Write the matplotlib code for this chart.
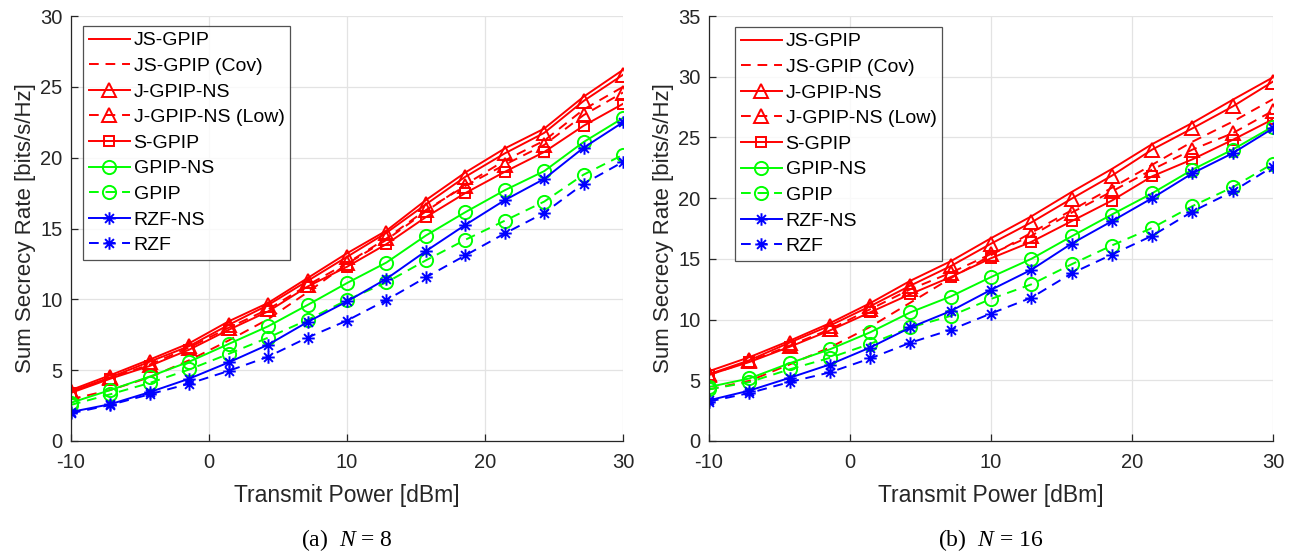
import matplotlib
matplotlib.use("Agg")
import matplotlib.pyplot as plt
from matplotlib.path import Path
import numpy as np

# ---------------- data ----------------
power_dbm = [-10, -7.14, -4.29, -1.43, 1.43, 4.29, 7.14, 10, 12.86, 15.71, 18.57, 21.43, 24.29, 27.14, 30]

labels = ["JS-GPIP", "JS-GPIP (Cov)", "J-GPIP-NS", "J-GPIP-NS (Low)", "S-GPIP",
          "GPIP-NS", "GPIP", "RZF-NS", "RZF"]

# N = 8
n8_js_gpip = [3.6, 4.65, 5.75, 6.9, 8.45, 9.75, 11.5, 13.25, 14.85, 17.0, 18.95, 20.65, 22.05, 24.3, 26.2]
n8_js_gpip_cov = [2.95, 3.6, 4.5, 5.7, 7.1, 8.6, 10.5, 12.5, 14.2, 16.2, 18.1, 19.8, 21.2, 23.4, 25.0]
n8_j_gpip_ns = [3.5, 4.5, 5.6, 6.7, 8.2, 9.6, 11.3, 13.0, 14.7, 16.7, 18.65, 20.3, 21.75, 24.0, 25.85]
n8_j_gpip_ns_low = [3.45, 4.45, 5.4, 6.6, 8.0, 9.3, 11.0, 12.55, 14.3, 16.3, 18.0, 19.5, 20.9, 23.0, 24.6]
n8_s_gpip = [3.4, 4.4, 5.3, 6.45, 7.85, 9.15, 10.9, 12.3, 13.9, 15.8, 17.5, 19.0, 20.4, 22.25, 23.8]
n8_gpip_ns = [2.7, 3.6, 4.55, 5.6, 6.85, 8.1, 9.6, 11.15, 12.6, 14.5, 16.15, 17.7, 19.05, 21.1, 22.8]
n8_gpip = [2.55, 3.3, 4.1, 5.05, 6.15, 7.3, 8.55, 9.95, 11.2, 12.75, 14.2, 15.55, 16.9, 18.8, 20.2]
n8_rzf_ns = [2.05, 2.6, 3.45, 4.4, 5.55, 6.8, 8.4, 9.85, 11.45, 13.4, 15.25, 17.0, 18.5, 20.7, 22.5]
n8_rzf = [1.95, 2.55, 3.3, 4.05, 4.95, 5.95, 7.3, 8.5, 9.95, 11.55, 13.1, 14.65, 16.1, 18.15, 19.7]

# N = 16
n16_js_gpip = [5.75, 6.9, 8.25, 9.7, 11.35, 13.2, 14.8, 16.7, 18.5, 20.5, 22.4, 24.45, 26.2, 28.1, 29.95]
n16_js_gpip_cov = [4.25, 4.95, 6.3, 7.7, 9.4, 11.4, 13.4, 15.3, 17.15, 19.0, 20.85, 22.75, 24.65, 26.3, 28.15]
n16_j_gpip_ns = [5.5, 6.65, 8.1, 9.5, 11.1, 12.8, 14.4, 16.25, 18.0, 19.95, 21.85, 24.0, 25.75, 27.55, 29.6]
n16_j_gpip_ns_low = [5.45, 6.55, 7.85, 9.2, 10.85, 12.5, 13.85, 15.4, 16.9, 18.8, 20.55, 22.35, 24.0, 25.35, 27.2]
n16_s_gpip = [5.45, 6.5, 7.75, 9.1, 10.6, 12.1, 13.5, 15.05, 16.4, 18.1, 19.8, 21.8, 23.2, 24.8, 26.5]
n16_gpip_ns = [4.45, 5.15, 6.4, 7.55, 8.95, 10.6, 11.9, 13.5, 15.0, 16.85, 18.65, 20.4, 22.35, 24.0, 25.9]
n16_gpip = [4.25, 4.85, 5.9, 6.85, 8.0, 9.35, 10.3, 11.7, 12.9, 14.55, 16.1, 17.55, 19.35, 20.9, 22.85]
n16_rzf_ns = [3.35, 4.15, 5.2, 6.3, 7.7, 9.35, 10.7, 12.45, 14.1, 16.25, 18.1, 20.0, 22.05, 23.7, 25.75]
n16_rzf = [3.25, 3.95, 4.85, 5.65, 6.8, 8.1, 9.15, 10.5, 11.8, 13.8, 15.35, 16.9, 18.9, 20.55, 22.6]

# ---------------- styles ----------------
# MATLAB-like asterisk marker (vertical, horizontal and two diagonal strokes)
_d = 0.7071
asterisk = Path(
    [(0, -1), (0, 1), (-1, 0), (1, 0), (-_d, -_d), (_d, _d), (-_d, _d), (_d, -_d)],
    [Path.MOVETO, Path.LINETO] * 4,
)

RED, GREEN, BLUE = (1, 0, 0), (0, 1, 0), (0, 0, 1)
styles = [
    dict(color=RED, ls="-", marker=None),
    dict(color=RED, ls="--", marker=None),
    dict(color=RED, ls="-", marker="^", ms=10.5),
    dict(color=RED, ls="--", marker="^", ms=10.5),
    dict(color=RED, ls="-", marker="s", ms=6.5),
    dict(color=GREEN, ls="-", marker="o", ms=9.5),
    dict(color=GREEN, ls="--", marker="o", ms=9.5),
    dict(color=BLUE, ls="-", marker=asterisk, ms=9),
    dict(color=BLUE, ls="--", marker=asterisk, ms=9),
]

plt.rcParams["font.family"] = ["Liberation Sans", "DejaVu Sans"]
plt.rcParams["axes.unicode_minus"] = False
plt.rcParams["mathtext.fontset"] = "custom"
plt.rcParams["mathtext.it"] = "Liberation Serif:italic"
plt.rcParams["mathtext.rm"] = "Liberation Serif"

fig = plt.figure(figsize=(12.96, 5.53), dpi=100)
W, H = 1296, 553

def make_ax(px_left, px_right, px_top, px_bottom):
    return fig.add_axes([px_left / W, 1 - px_bottom / H,
                         (px_right - px_left) / W, (px_bottom - px_top) / H])

ax1 = make_ax(71, 623, 16, 441)
ax2 = make_ax(709, 1273, 16, 441)

panels = [
    (ax1, [n8_js_gpip, n8_js_gpip_cov, n8_j_gpip_ns, n8_j_gpip_ns_low, n8_s_gpip,
           n8_gpip_ns, n8_gpip, n8_rzf_ns, n8_rzf], 30, r"(a)  $N$ = 8", (12, 10)),
    (ax2, [n16_js_gpip, n16_js_gpip_cov, n16_j_gpip_ns, n16_j_gpip_ns_low, n16_s_gpip,
           n16_gpip_ns, n16_gpip, n16_rzf_ns, n16_rzf], 35, r"(b)  $N$ = 16", (26, 11)),
]

axis_col = "#262626"
for ax, series, ymax, cap, (lx, ly) in panels:
    handles = []
    for lab, ys, st in zip(labels, series, styles):
        mk = st.get("marker")
        h, = ax.plot(power_dbm, ys, color=st["color"], ls=st["ls"], lw=1.4,
                     marker=mk, ms=st.get("ms", 8), mfc="none", mec=st["color"],
                     mew=1.4, label=lab)
        if st["ls"] == "--":
            h.set_dashes((5, 3.5))
        handles.append(h)
    ax.set_xlim(-10, 30)
    ax.set_ylim(0, ymax)
    ax.set_xticks([-10, 0, 10, 20, 30])
    ax.set_yticks(np.arange(0, ymax + 1, 5))
    ax.grid(True, color="#e3e3e3", lw=0.9)
    ax.set_axisbelow(True)
    for s in ["top", "right"]:
        ax.spines[s].set_visible(False)
    for s in ["left", "bottom"]:
        ax.spines[s].set_color(axis_col)
        ax.spines[s].set_linewidth(0.9)
    ax.tick_params(direction="in", length=5, width=0.9, colors=axis_col,
                   labelsize=14.5, labelcolor=axis_col)
    ax.tick_params(axis="x", pad=9)
    ax.tick_params(axis="y", pad=6)
    ax.set_xlabel("Transmit Power [dBm]", fontsize=16.5, color=axis_col, labelpad=8)
    ax.set_ylabel("Sum Secrecy Rate [bits/s/Hz]", fontsize=16, color=axis_col, labelpad=3)
    bb = ax.get_position()
    ax_w_px = bb.width * W
    ax_h_px = bb.height * H
    leg = ax.legend(handles=handles, loc="upper left",
                    bbox_to_anchor=(lx / ax_w_px, 1 - ly / ax_h_px),
                    fontsize=14, frameon=True, fancybox=False, edgecolor=axis_col,
                    handlelength=2.1, handletextpad=0.2, labelspacing=0.41,
                    borderpad=0.3, borderaxespad=0.0)
    leg.get_frame().set_linewidth(0.9)
    for t in leg.get_texts():
        t.set_color("black")
    ax.text(0.5, 1 - (540 - 16) / ax_h_px, cap, transform=ax.transAxes,
            ha="center", va="center", fontsize=17, family="Liberation Serif")

fig.savefig("out.png", dpi=100)
